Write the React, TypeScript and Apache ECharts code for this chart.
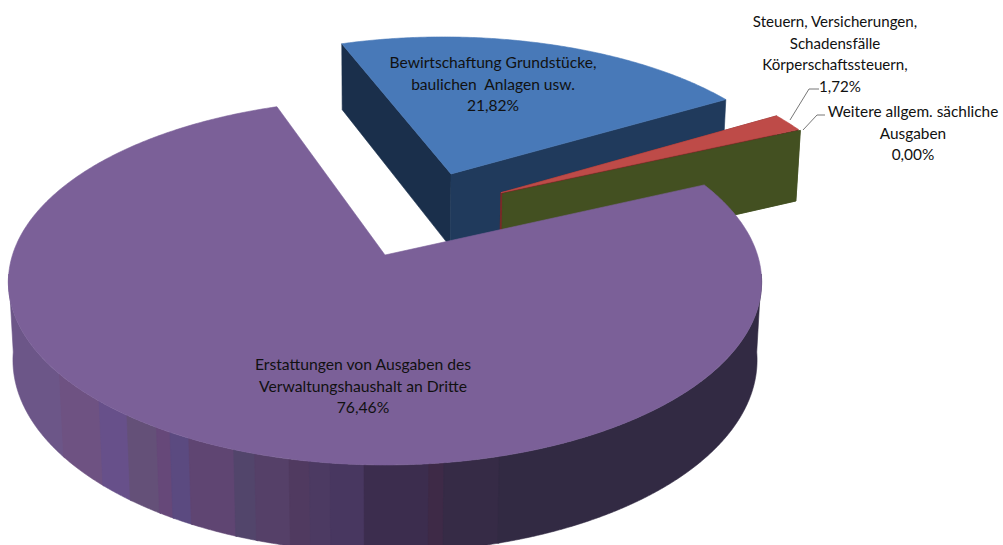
import React, { useEffect, useRef } from "react";
import * as echarts from "echarts";

const sliceNames = ["Bewirtschaftung Grundstücke", "Steuern, Versicherungen", "Weitere allgem. sächliche Ausgaben", "Erstattungen von Ausgaben"];
const sliceShares = [21.82, 1.72, 0.0, 76.46];
const sliceLabelLines = [
  ["Bewirtschaftung Grundstücke,", "baulichen  Anlagen usw."],
  ["Steuern, Versicherungen,", "Schadensfälle", "Körperschaftssteuern,"],
  ["Weitere allgem. sächliche", "Ausgaben"],
  ["Erstattungen von Ausgaben des", "Verwaltungshaushalt an Dritte"],
];

// Styling and layout
const topColors = ["#4879B8", "#BE4B48", "#3F4F20", "#7B6098"];
const cutColors = [["#1A2F4B", "#203A5C"], ["#7A2A28", "#7A2A28"], ["#435021", "#435021"], [null, null]];
const explode = [[0.19, -0.485], [0.328, -0.367], [0.333, -0.36], [0, 0]];
const labelPos = [[493, 62], [835, 21], [913, 111], [363, 364]];
const labelLastDx = [0, 5, 0, 0];
const labelFont = [15.6, 15.1, 15.4, 15.7];
const leaders = [
  [[790, 120], [809, 89], [819, 89]],
  [[803, 130], [817, 115], [825, 115]],
];
const wallBands: [number, string][] = [
  [60, "#6C5688"], [100, "#6E5282"], [128, "#67508A"], [157, "#645078"], [170, "#664879"],
  [190, "#5B4A80"], [235, "#5F4572"], [255, "#52456B"], [290, "#554068"], [310, "#503A60"],
  [330, "#4C3A62"], [365, "#483760"], [430, "#3C2D4E"], [445, "#3E2A47"], [500, "#362B46"], [2000, "#322A43"],
];
const START = 340.7;
const CX = 385, CY = 255, R = 372.5, S = 179, H = 78, P = 0.1475, Q = 0.012;

const proj = (u: number, v: number, z: number): number[] => {
  const w = 1 - P * v + Q * z;
  return [CX + (R * u) / w, CY + (S * v + H * z) / w];
};
const rim = (deg: number, off: number[], z: number) => {
  const t = (deg * Math.PI) / 180;
  return proj(Math.sin(t) + off[0], -Math.cos(t) + off[1], z);
};
const fmt = (v: number) => v.toFixed(2).replace(".", ",") + "%";

const renderItem = (params: any, api: any) => {
  const i = params.dataIndex;
  const share = api.value(0);
  let a0 = START;
  for (let k = 0; k < i; k++) a0 += sliceShares[k] * 3.6;
  const a1 = a0 + share * 3.6;
  const off = explode[i];
  const apex = proj(off[0], off[1], 0);
  const apexB = proj(off[0], off[1], 1);
  const children: any[] = [];
  const poly = (points: number[][], fill: string, stroke = fill) =>
    children.push({ type: "polygon", shape: { points }, style: { fill, stroke, lineWidth: 0.6 } });

  if (cutColors[i][0]) {
    poly([apex, rim(a0, off, 0), rim(a0, off, 1), apexB], cutColors[i][0] as string);
    poly([apex, rim(a1, off, 0), rim(a1, off, 1), apexB], cutColors[i][1] as string);
  }
  if (i === 3) {
    // visible outer wall, in vertical bands, between the two silhouette angles
    let prev = -1e9;
    const step = 0.25;
    wallBands.forEach(([xEnd, color]) => {
      const top: number[][] = [];
      const bot: number[][] = [];
      let last = -1;
      for (let d = 96; d < 264; d += step) {
        const xa = rim(d, off, 0)[0];
        const xb = rim(d + step, off, 0)[0];
        if (Math.max(xa, xb) >= prev && Math.min(xa, xb) <= xEnd) {
          if (last !== d) {
            top.push(rim(d, off, 0));
            bot.push(rim(d, off, 1));
          }
          top.push(rim(d + step, off, 0));
          bot.push(rim(d + step, off, 1));
          last = d + step;
        }
      }
      prev = xEnd;
      if (top.length > 1) poly([...top, ...bot.slice().reverse()], color);
    });
  }
  const face: number[][] = [apex];
  const steps = Math.max(1, Math.ceil((a1 - a0) * 2));
  if (a1 > a0) {
    for (let n = 0; n <= steps; n++) face.push(rim(a0 + ((a1 - a0) * n) / steps, off, 0));
    poly(face, topColors[i]);
  }
  const [lx, ly] = labelPos[i];
  const lines = sliceLabelLines[i];
  const font = `${labelFont[i]}px Lato`;
  lines.forEach((text, n) =>
    children.push({
      type: "text",
      style: { text, x: lx, y: ly + n * 21.5, align: "center", verticalAlign: "middle", fill: "#111", font },
      z2: 10,
    }),
  );
  children.push({
    type: "text",
    style: { text: fmt(share), x: lx + labelLastDx[i], y: ly + lines.length * 21.5, align: "center", verticalAlign: "middle", fill: "#111", font },
    z2: 10,
  });
  if (i < 2) {
    children.push({ type: "polyline", shape: { points: leaders[i] }, style: { fill: "none", stroke: "#777", lineWidth: 1 } });
  }
  return { type: "group", children };
};

export default function App() {
  const ref = useRef<HTMLDivElement>(null);
  useEffect(() => {
    document.body.style.margin = "0";
    const chart = echarts.init(ref.current!, null, { renderer: "svg" });
    chart.setOption({
      animation: false,
      backgroundColor: "#fff",
      series: [
        {
          type: "custom",
          coordinateSystem: "none",
          silent: true,
          clip: false,
          renderItem,
          data: sliceShares.map((value, k) => ({ name: sliceNames[k], value: [value] })),
        },
      ],
    });
    return () => chart.dispose();
  }, []);
  return <div ref={ref} style={{ width: 1003, height: 545, overflow: "hidden" }} />;
}
